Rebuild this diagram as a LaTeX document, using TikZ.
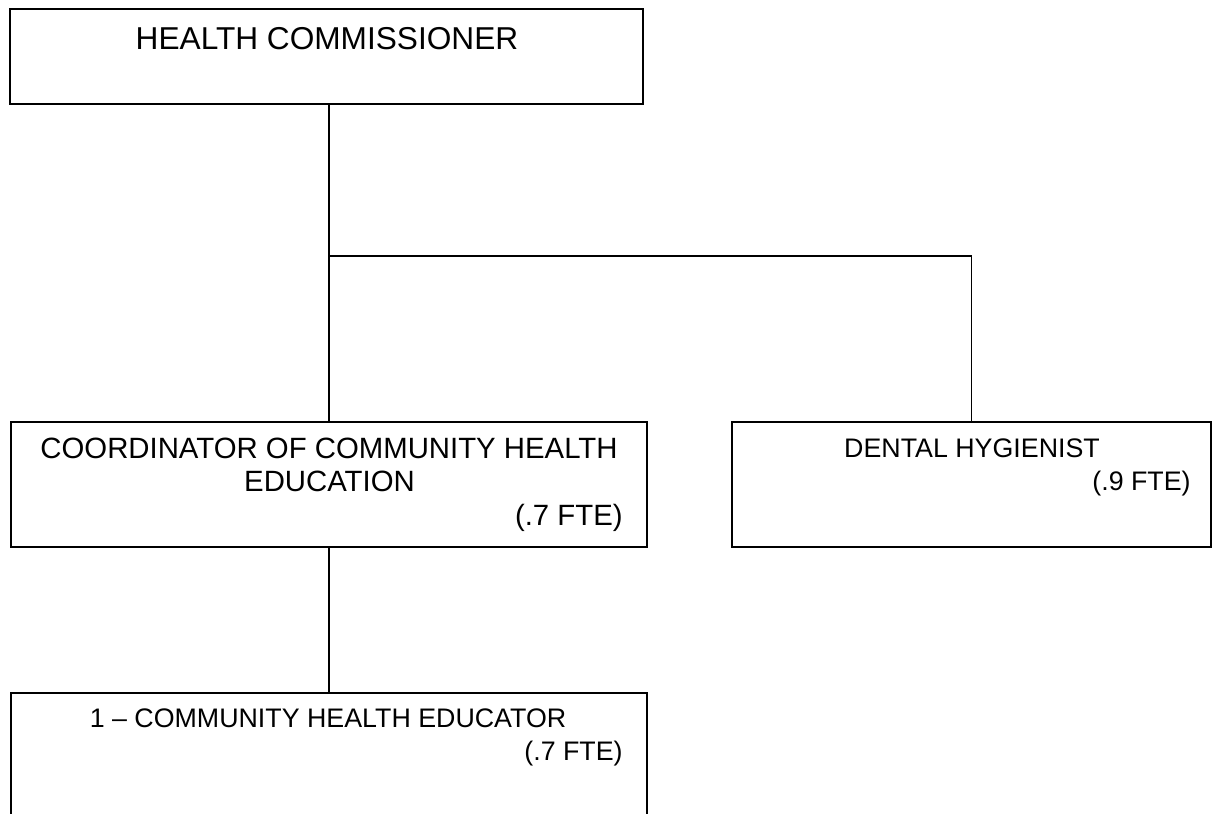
\documentclass[tikz,border=0pt]{standalone}
\usepackage{fontspec}
\setmainfont{Liberation Sans}

\begin{document}
\begin{tikzpicture}[
    post/.style={shape=rectangle, draw=black, line width=1pt, inner sep=0pt},
    title/.style={inner sep=0pt, font=\fontsize{18}{21}\selectfont},
    lead/.style={inner sep=0pt, font=\fontsize{16.7}{20}\selectfont},
    job/.style={inner sep=0pt, font=\fontsize{15.25}{18.3}\selectfont},
    link/.style={draw=black, line width=1pt},
  ]
    \useasboundingbox (0,0) rectangle (24.24,-16.28);
    \clip (0,0) rectangle (24.24,-16.28);

    \node[post, minimum width=12.66cm, minimum height=1.90cm] (hc) at (6.53,-1.13) {};
    \node[title, anchor=base] (hcname) at (6.54,-0.98) {HEALTH COMMISSIONER};

    \node[post, minimum width=12.72cm, minimum height=2.50cm] (coord) at (6.58,-9.69) {};
    \node[lead, anchor=base] (coordname) at (6.58,-9.16) {COORDINATOR OF COMMUNITY HEALTH};
    \node[lead, anchor=base] (coordname2) at (6.59,-9.83) {EDUCATION};
    \node[lead, anchor=base east] (coordfte) at (12.46,-10.50) {(.7 FTE)};

    \node[post, minimum width=9.58cm, minimum height=2.50cm] (dental) at (19.43,-9.69) {};
    \node[job, anchor=base] (dentalname) at (19.44,-9.14) {DENTAL HYGIENIST};
    \node[job, anchor=base east] (dentalfte) at (23.82,-9.80) {(.9 FTE)};

    \node[post, minimum width=12.72cm, minimum height=3.60cm, anchor=north] (educ) at (6.58,-13.84) {};
    \node[job, anchor=base] (educname) at (6.56,-14.54) {1 -- COMMUNITY HEALTH EDUCATOR};
    \node[job, anchor=base east] (educfte) at (12.46,-15.20) {(.7 FTE)};

    \coordinate (split) at (6.58,-5.12);

    \draw[link] (coord.north) -- (coord.north |- hc.south);
    \draw[link] (split) -| (dental.north);
    \draw[link] (coord.south) -- (educ.north);

  \end{tikzpicture}
\end{document}
